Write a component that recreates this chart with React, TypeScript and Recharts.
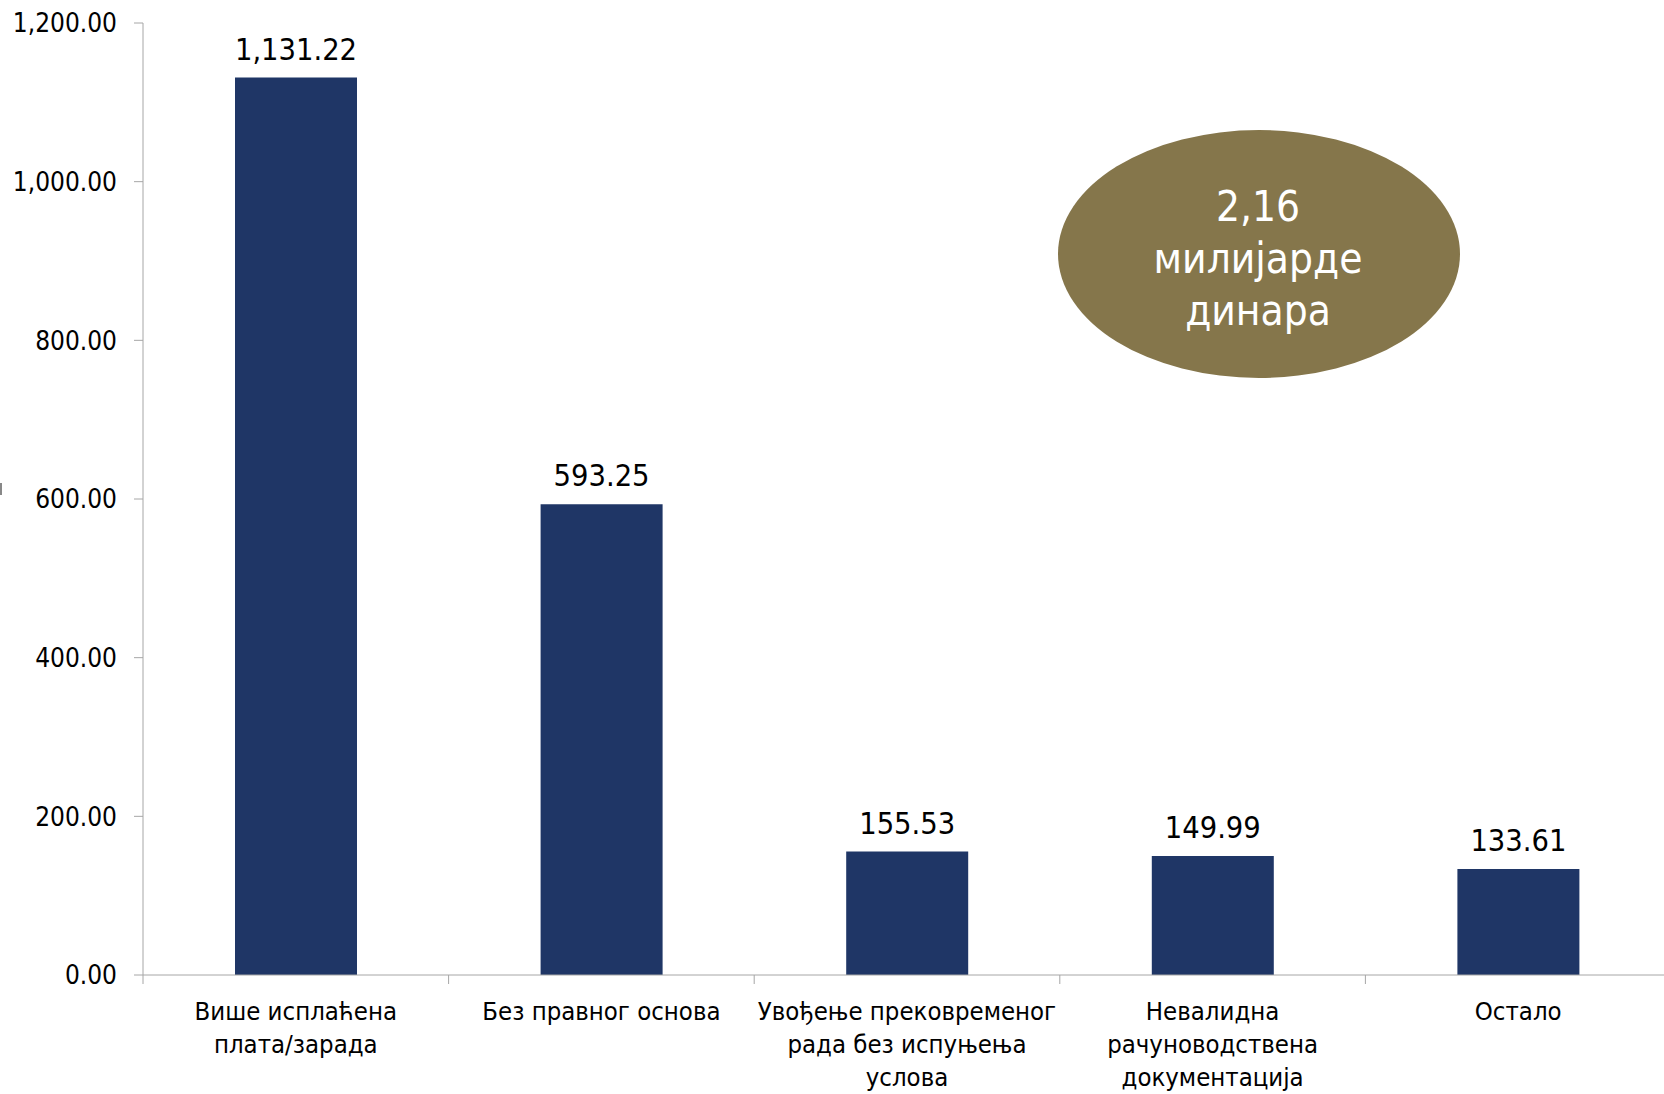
import React from "react"
import { Bar, BarChart, LabelList, XAxis, YAxis } from "recharts"

const categories = [
  "Више исплаћена\nплата/зарада",
  "Без правног основа",
  "Увођење прековременог\nрада без испуњења\nуслова",
  "Невалидна\nрачуноводствена\nдокументација",
  "Остало",
]
const amounts = [1131.22, 593.25, 155.53, 149.99, 133.61]
const yTicks = [0, 200, 400, 600, 800, 1000, 1200]
const totalNote = ["2,16", "милијарде", "динара"]

const data = categories.map((name, i) => ({ name, value: amounts[i] }))

const FONT = "'DejaVu Sans Condensed', 'DejaVu Sans', sans-serif"
const AXIS = "#a6a6a6"
const BAR = "#1f3666"
const NOTE = "#85764b"

const fmt = (v: number) =>
  Number(v).toLocaleString("en-US", { minimumFractionDigits: 2, maximumFractionDigits: 2 })

function CategoryTick(props: any) {
  const { x, y, payload } = props
  const half = payload.offset ?? 0
  const lines = String(payload.value).split("\n")
  return (
    <g>
      <line x1={x - half} x2={x - half} y1={y} y2={y + 9} stroke={AXIS} />
      <text x={x} y={y} textAnchor="middle" fontSize={25.5} fill="#000" fontFamily={FONT}>
        {lines.map((l, i) => (
          <tspan key={i} x={x} y={y + 45 + i * 33}>
            {l}
          </tspan>
        ))}
      </text>
    </g>
  )
}

export default function App() {
  return (
    <div
      style={{
        position: "absolute",
        left: 0,
        top: 0,
        width: 1664,
        height: 1094,
        overflow: "hidden",
        background: "#fff",
      }}
    >
      <BarChart
        width={1680}
        height={1094}
        data={data}
        margin={{ top: 23, right: 9, left: 0, bottom: 0 }}
        barSize={122}
      >
        <XAxis
          dataKey="name"
          height={119}
          interval={0}
          axisLine={{ stroke: AXIS }}
          tickLine={false}
          tickSize={0}
          tickMargin={0}
          tick={<CategoryTick />}
        />
        <YAxis
          width={143}
          domain={[0, 1200]}
          ticks={yTicks}
          tickFormatter={fmt}
          axisLine={{ stroke: AXIS }}
          tickLine={{ stroke: AXIS }}
          tickSize={9}
          tickMargin={17}
          tick={{ fontSize: 26, fill: "#000", fontFamily: FONT }}
        />
        <Bar dataKey="value" fill={BAR} isAnimationActive={false}>
          <LabelList
            dataKey="value"
            position="top"
            offset={18}
            formatter={(v: any) => fmt(v)}
            style={{ fontSize: 30.5, fill: "#000", fontFamily: FONT }}
          />
        </Bar>
      </BarChart>
      <svg
        width={1664}
        height={1094}
        style={{ position: "absolute", left: 0, top: 0, pointerEvents: "none" }}
      >
        <rect x={0} y={483} width={2} height={12} fill="#888" />
        <ellipse cx={1259} cy={254} rx={201} ry={124} fill={NOTE} />
        {totalNote.map((t, i) => (
          <text
            key={i}
            x={1258}
            y={221 + i * 52}
            textAnchor="middle"
            fontSize={42}
            fill="#fff"
            fontFamily={FONT}
          >
            {t}
          </text>
        ))}
      </svg>
    </div>
  )
}
